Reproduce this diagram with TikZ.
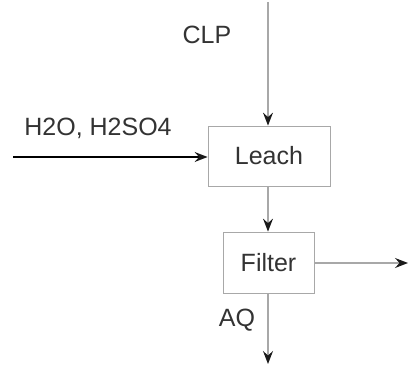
\documentclass[tikz,border=0pt]{standalone}
\usepackage{fontspec}
\setmainfont{Liberation Sans}
\usetikzlibrary{arrows.meta}
\definecolor{txt}{HTML}{333333}
\definecolor{edge}{HTML}{A8A8A8}
\definecolor{tipc}{HTML}{1A1A1A}
\tikzset{
  unitbox/.style={draw=edge, line width=0.8pt, fill=white, text=txt, font=\fontsize{25}{30}\selectfont, inner sep=0pt},
  lbl/.style={text=txt, font=\fontsize{25}{30}\selectfont, inner sep=0pt},
  flow/.style={draw=edge, line width=1.2pt, -{Stealth[length=13pt,width=10pt,inset=4.5pt,color=tipc]}},
  feed/.style={draw=black, line width=1.5pt, -{Stealth[length=13pt,width=10pt,inset=4.5pt,color=tipc]}}
}
\begin{document}
\begin{tikzpicture}[x=1pt,y=-1pt]
\useasboundingbox (0,0) rectangle (410,369);
\node[unitbox, minimum width=122pt, minimum height=60pt] (leach) at (269,156) {Leach};
\node[unitbox, minimum width=91pt, minimum height=61pt] (filter) at (268.5,262.5) {Filter};
\coordinate (top) at (268,2);
\coordinate (in) at (13,157);
\coordinate (out) at (408,263);
\coordinate (bot) at (268,364);
\node[lbl] (clp) at (207,35) {CLP};
\node[lbl] (acid) at (98,128) {H2O, H2SO4};
\node[lbl] (aq) at (237,320) {AQ};
\draw[flow] (top) -- (top |- leach.north);
\draw[feed] (in) -- (in -| leach.west);
\draw[flow] (leach.south -| top) -- (top |- filter.north);
\draw[flow] (filter.east |- out) -- (out);
\draw[flow] (top |- filter.south) -- (bot);
\end{tikzpicture}
\end{document}
